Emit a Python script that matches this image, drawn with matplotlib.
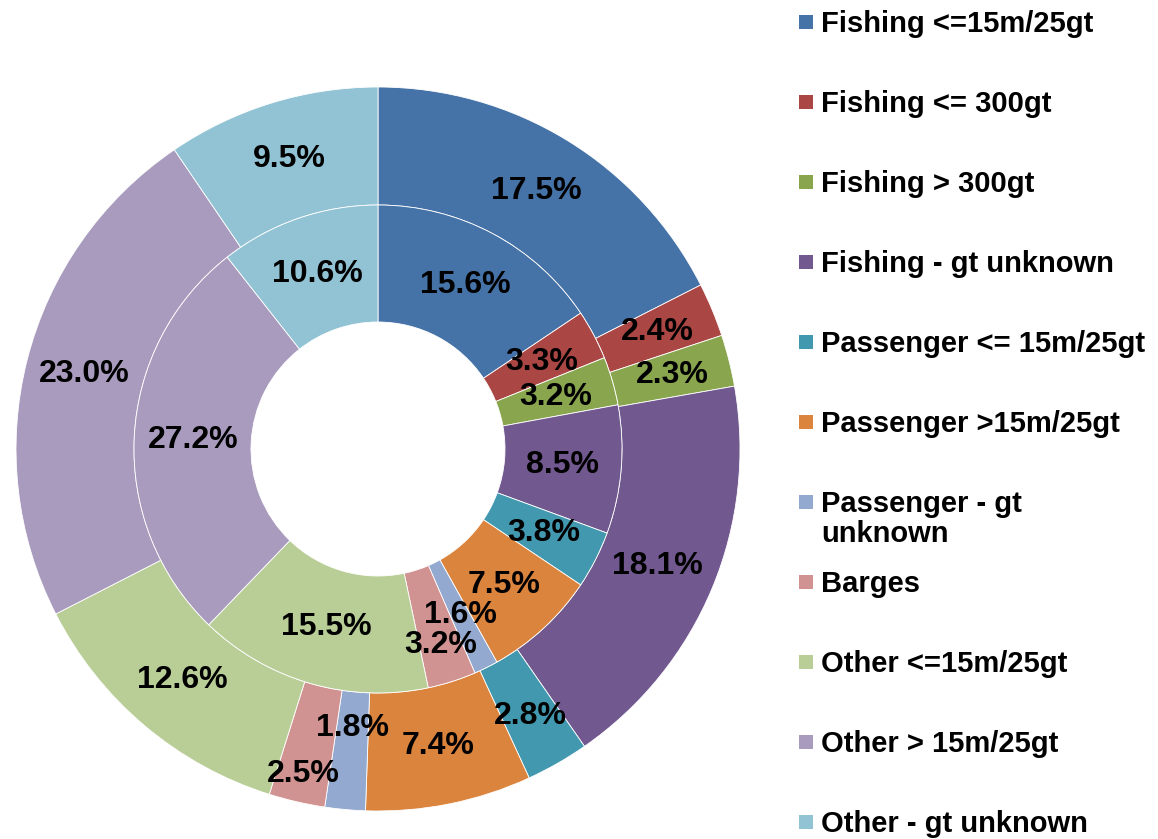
import numpy as np
import matplotlib.pyplot as plt
from matplotlib.patches import Rectangle

plt.rcParams['font.family'] = ['Liberation Sans', 'DejaVu Sans']

categories = ['Fishing <=15m/25gt', 'Fishing <= 300gt', 'Fishing > 300gt',
              'Fishing - gt unknown', 'Passenger <= 15m/25gt',
              'Passenger >15m/25gt', 'Passenger - gt\nunknown', 'Barges',
              'Other <=15m/25gt', 'Other > 15m/25gt', 'Other - gt unknown']
outer_pct = [17.5, 2.4, 2.3, 18.1, 2.8, 7.4, 1.8, 2.5, 12.6, 23.0, 9.5]
inner_pct = [15.6, 3.3, 3.2, 8.5, 3.8, 7.5, 1.6, 3.2, 15.5, 27.2, 10.6]
colors = ['#4572A7', '#AA4643', '#89A54E', '#71588F', '#4198AF', '#DB843D',
          '#93A9CF', '#D19392', '#B9CD96', '#A99BBD', '#92C3D4']

# radial label nudges (pixels) where labels would collide
outer_nudge = {4: 5, 6: -23, 7: 30}
inner_nudge = {7: 20}

R_OUT, R_MID, R_IN = 362, 244, 127

fig = plt.figure(figsize=(11.58, 8.39), dpi=100)
ax = fig.add_axes([8 / 1158, 20 / 839, 740 / 1158, 740 / 839])

wp = dict(edgecolor='white', linewidth=0.6)
ax.pie(outer_pct, radius=R_OUT, colors=colors, startangle=90, counterclock=False,
       wedgeprops=dict(width=R_OUT - R_MID, **wp), normalize=True)
ax.pie(inner_pct, radius=R_MID, colors=colors, startangle=90, counterclock=False,
       wedgeprops=dict(width=R_MID - R_IN, **wp), normalize=True)
ax.set_xlim(-370, 370)
ax.set_ylim(-370, 370)
ax.set_aspect('equal')
ax.axis('off')


def put_labels(vals, r_lo, r_hi, nudge):
    vals = np.array(vals)
    frac = vals / vals.sum()
    mids = np.cumsum(frac) - frac / 2
    for i, (v, m) in enumerate(zip(vals, mids)):
        a = 2 * np.pi * m
        r = (r_lo + r_hi) / 2 + nudge.get(i, 0)
        ax.text(r * np.sin(a), r * np.cos(a), f'{v:.1f}%', ha='center', va='center',
                fontsize=23, fontweight='bold', color='black')


put_labels(outer_pct, R_MID, R_OUT, outer_nudge)
put_labels(inner_pct, R_IN, R_MID, inner_nudge)

# legend
lax = fig.add_axes([0, 0, 1, 1])
lax.set_xlim(0, 1158)
lax.set_ylim(839, 0)
lax.axis('off')
for i, (name, c) in enumerate(zip(categories, colors)):
    y = 22 + 80 * i
    lax.add_patch(Rectangle((799, y - 7), 14, 14, facecolor=c, edgecolor='none'))
    lax.text(821, y - 12, name, ha='left', va='top', fontsize=21,
             fontweight='bold', linespacing=1.1)

fig.savefig('out.png', dpi=100)
